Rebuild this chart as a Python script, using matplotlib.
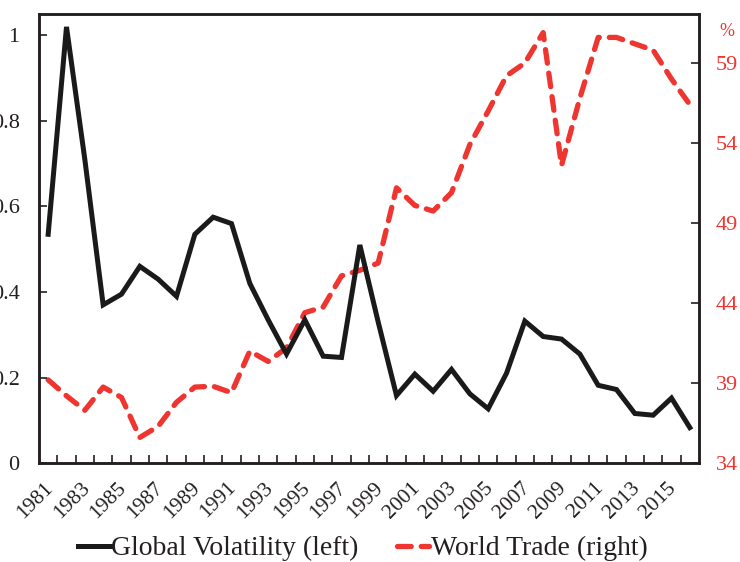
import numpy as np
import matplotlib
matplotlib.use('Agg')
import matplotlib.pyplot as plt
import matplotlib.transforms as mtransforms
from matplotlib.ticker import FixedLocator, FuncFormatter

plt.rcParams['font.family'] = ['Liberation Serif', 'DejaVu Serif']

# data
years = list(range(1981, 2017))
volatility = [0.535, 1.02, 0.71, 0.37, 0.395, 0.46, 0.43, 0.39, 0.535, 0.575,
              0.56, 0.42, 0.335, 0.255, 0.335, 0.25, 0.247, 0.51, 0.33, 0.158,
              0.208, 0.168, 0.219, 0.162, 0.127, 0.21, 0.332, 0.296, 0.29, 0.255,
              0.182, 0.172, 0.116, 0.112, 0.152, 0.083]
world_trade = [39.2, 38.2, 37.3, 38.75, 38.1, 35.6, 36.3, 37.8, 38.75, 38.8,
               38.4, 41.0, 40.35, 41.2, 43.4, 43.75, 45.7, 46.05, 46.5, 51.2,
               50.1, 49.75, 50.9, 53.9, 56.0, 58.2, 59.0, 60.9, 52.6, 56.8,
               60.6, 60.6, 60.2, 59.8, 58.0, 56.4]
left_ticks = [0, 0.2, 0.4, 0.6, 0.8, 1.0]
right_ticks = [34, 39, 44, 49, 54, 59]

txt = '#231f20'
red = '#ee3530'

fig = plt.figure(figsize=(7.4, 5.62), dpi=100)
ax = fig.add_axes([0.0527, 0.176, 0.8919, 0.799])
ax2 = ax.twinx()

l1, = ax.plot(years, volatility, color='#1a1a1a', lw=3.6, solid_joinstyle='miter',
              label='Global Volatility (left)', zorder=3)
l2, = ax2.plot(years, world_trade, color=red, lw=3.8, dashes=(2.6, 1.9),
               dash_capstyle='round', label='World Trade (right)')
ax.set_zorder(ax2.get_zorder() + 1)
ax.patch.set_visible(False)

ax.set_xlim(1980.5, 2016.5)
ax.set_ylim(0, 1.05)
ax2.set_ylim(34, 62.06)

ax.set_yticks(left_ticks)
ax.yaxis.set_major_formatter(FuncFormatter(lambda v, p: f'{v:g}'))
ax2.set_yticks(right_ticks)

ax.set_xticks(years[::2])
ax.xaxis.set_minor_locator(FixedLocator(np.arange(1981.5, 2016.5, 1)))
ax.tick_params(axis='x', which='major', length=0, pad=11, labelsize=15.5, colors=txt)
ax.tick_params(axis='x', which='minor', direction='in', length=6, width=1.2, color=txt)
shift = mtransforms.ScaledTranslation(-4.5 / 100, 0, fig.dpi_scale_trans)
for lab in ax.get_xticklabels():
    lab.set_rotation(45)
    lab.set_ha('right')
    lab.set_va('top')
    lab.set_rotation_mode('anchor')
    lab.set_transform(lab.get_transform() + shift)

ax.tick_params(axis='y', direction='in', length=6, width=1.2, pad=14, labelsize=16,
               colors=txt)
ax2.tick_params(axis='y', direction='in', length=6, width=1.2, pad=12, labelsize=16,
                color=txt, labelcolor=red)
ax2.text(1.031, 0.962, '%', transform=ax.transAxes, color=red, fontsize=13,
         ha='left', va='center')

for a in (ax, ax2):
    for s in a.spines.values():
        s.set_linewidth(1.8)
        s.set_color(txt)

fig.legend(handles=[l1, l2], loc='center', bbox_to_anchor=(0.49, 0.024), ncol=2,
           frameon=False, fontsize=20, handlelength=1.15, handletextpad=0.05,
           columnspacing=1.4, labelcolor=txt)

fig.savefig('out.png', dpi=100)
